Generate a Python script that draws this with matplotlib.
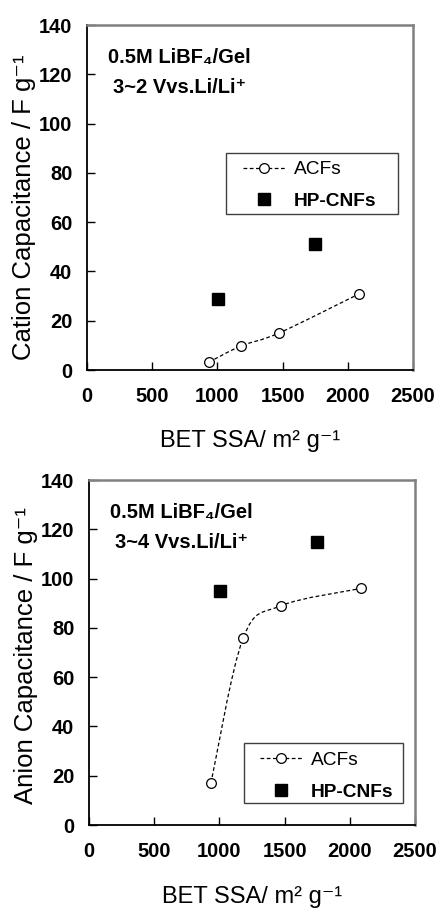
import numpy as np
import matplotlib
matplotlib.use("Agg")
import matplotlib.pyplot as plt
from matplotlib.path import Path
from matplotlib.patches import PathPatch, Rectangle
from matplotlib.lines import Line2D

plt.rcParams['font.family'] = ['Liberation Sans', 'DejaVu Sans']

# data
acf_ssa = [935, 1183, 1472, 2083]
cation_acf = [3.2, 9.8, 15.0, 30.8]
anion_acf = [17.0, 76.0, 89.0, 96.0]

cnf_ssa = [1008, 1752]
cation_cnf = [28.8, 51.0]
anion_cnf = [95.0, 114.8]

xticks = [0, 500, 1000, 1500, 2000, 2500]
yticks = [0, 20, 40, 60, 80, 100, 120, 140]

xlabel = "BET SSA/ m\u00b2 g\u207b\u00b9"
cation_ylabel = "Cation Capacitance / F g\u207b\u00b9"
anion_ylabel = "Anion Capacitance / F g\u207b\u00b9"
note1 = "0.5M LiBF\u2084/Gel"
cation_note2 = "3~2 Vvs.Li/Li\u207a"
anion_note2 = "3~4 Vvs.Li/Li\u207a"


def smooth_line(ax, xs, ys):
    # excel style smoothed line (catmull-rom -> bezier), built in axes coords
    pts = ax.transAxes.inverted().transform(ax.transData.transform(np.column_stack([xs, ys])))
    n = len(pts)
    verts = [pts[0]]
    codes = [Path.MOVETO]
    for i in range(n - 1):
        p0 = pts[max(i - 1, 0)]
        p1 = pts[i]
        p2 = pts[i + 1]
        p3 = pts[min(i + 2, n - 1)]
        c1 = p1 + (p2 - p0) / 6.0
        c2 = p2 - (p3 - p1) / 6.0
        verts += [c1, c2, p2]
        codes += [Path.CURVE4] * 3
    patch = PathPatch(Path(verts, codes), transform=ax.transAxes, fill=False,
                      edgecolor='black', lw=0.9, ls=(0, (3, 2)), zorder=2)
    ax.add_patch(patch)


def panel(ax, yacf, ycnf, ylabel, ylab_y, note2, box, leg_anchor):
    ax.set_xlim(0, 2500)
    ax.set_ylim(0, 140)
    smooth_line(ax, acf_ssa, yacf)
    ax.plot(acf_ssa, yacf, ls='none', marker='o', ms=7, mfc='white', mec='black', mew=0.9, zorder=3)
    ax.plot(cnf_ssa, ycnf, ls='none', marker='s', ms=8.6, color='black', zorder=3)

    ax.set_xticks(xticks)
    ax.set_yticks(yticks)
    ax.tick_params(axis='x', direction='in', length=6, width=1, pad=12, labelsize=14.5)
    ax.tick_params(axis='y', direction='in', length=6, width=1, pad=10.5, labelsize=14.5)
    for lab in ax.get_xticklabels() + ax.get_yticklabels():
        lab.set_fontweight('bold')
    for s in ['top', 'right']:
        ax.spines[s].set_color('#808080')
        ax.spines[s].set_linewidth(1.8)
    for s in ['left', 'bottom']:
        ax.spines[s].set_linewidth(1.3)

    ax.set_ylabel(ylabel, fontsize=18.5)
    ax.yaxis.set_label_coords(-0.155, ylab_y)

    ax.text(0.065, 0.905, note1, transform=ax.transAxes, fontsize=14.5,
            fontweight='bold', va='center', ha='left')
    ax.text(0.08, 0.818, note2, transform=ax.transAxes, fontsize=14.5,
            fontweight='bold', va='center', ha='left')

    # legend frame drawn separately so the padding matches
    x0, y0, x1, y1 = box
    ax.add_patch(Rectangle((x0, y0), x1 - x0, y1 - y0, transform=ax.transAxes,
                           fill=True, facecolor='white', edgecolor='#404040', lw=1.0, zorder=4))
    h1 = Line2D([], [], ls=(0, (3, 2)), lw=0.9, color='black', marker='o', ms=7,
                mfc='white', mec='black', mew=0.9)
    h2 = Line2D([], [], ls='none', marker='s', ms=8.6, color='black')
    leg = ax.legend([h1, h2], ['ACFs', 'HP-CNFs'], loc='upper left', bbox_to_anchor=leg_anchor,
                    bbox_transform=ax.transAxes, borderaxespad=0, borderpad=0, frameon=False,
                    fontsize=13.8, handlelength=2.2, handletextpad=0.45, labelspacing=0.75)
    leg.set_zorder(5)
    leg.get_texts()[1].set_fontweight('bold')


fig = plt.figure(figsize=(4.38, 9.17), dpi=100)
ax1 = fig.add_axes([0.1986, 0.5965, 0.7443, 0.3762])
ax2 = fig.add_axes([0.2032, 0.1003, 0.7443, 0.3762])

panel(ax1, cation_acf, cation_cnf, cation_ylabel, 0.472, cation_note2,
      (0.426, 0.452, 0.954, 0.629), (0.479, 0.606))
panel(ax2, anion_acf, anion_cnf, anion_ylabel, 0.49, anion_note2,
      (0.475, 0.064, 0.963, 0.238), (0.525, 0.213))

fig.text(250 / 438, 1 - 441 / 917, xlabel, fontsize=17, ha='center', va='center')
fig.text(252 / 438, 1 - 897 / 917, xlabel, fontsize=17, ha='center', va='center')

fig.savefig("out.png", dpi=100)
